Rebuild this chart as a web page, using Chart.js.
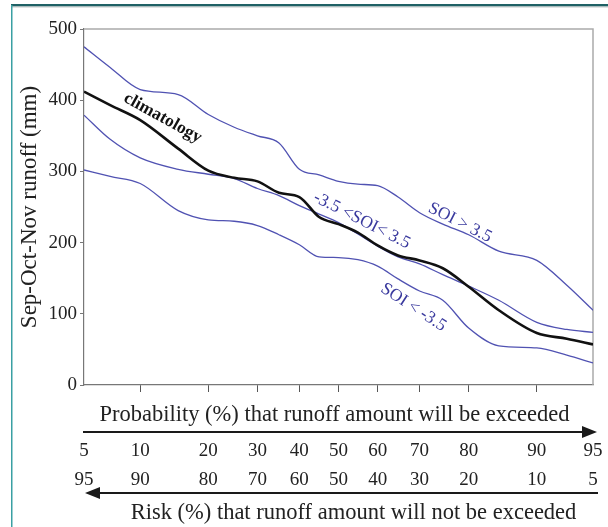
<!DOCTYPE html>
<html>
<head>
<meta charset="utf-8">
<script src="https://cdn.jsdelivr.net/npm/chart.js@4.4.1/dist/chart.umd.min.js"></script>
<style>
    html, body { margin: 0; padding: 0; background: #fff; }
    #wrap { position: relative; width: 608px; height: 527px; }
</style>
</head>
<body>
<div id="wrap"><canvas id="runoffChart"></canvas></div>
<script>
// exceedance probability (%) of each read-off point
const probabilities = [5, 7, 10, 15, 20, 25, 30, 35, 40, 45, 50, 55, 60, 65, 70, 75, 80, 85, 90, 93, 95];
// Sep-Oct-Nov runoff (mm)
const climatology = [412, 393, 372, 332, 301, 291, 286, 270, 264, 236, 226, 214, 196, 182, 175, 164, 138, 105, 73, 65, 57];
const soiPositive = [475, 446, 415, 408, 380, 362, 350, 340, 303, 295, 286, 282, 280, 264, 242, 226, 211, 188, 175, 140, 105];
const soiNeutral  = [379, 345, 319, 303, 296, 290, 276, 266, 252, 240, 228, 212, 195, 180, 170, 155, 139, 119, 88, 78, 74];
const soiNegative = [302, 293, 283, 245, 232, 230, 224, 211, 197, 180, 179, 176, 167, 149, 132, 119, 80, 55, 52, 42, 31];

const probabilityTicks = [5, 10, 20, 30, 40, 50, 60, 70, 80, 90, 95];

const curveLabels = [
    { text: "climatology", p: 12.8, v: 375, angle: 29, color: "#111", weight: "bold" },
    { text: "-3.5 <SOI< 3.5", p: 56, v: 231, angle: 27, color: "#3a3a9e", weight: "normal" },
    { text: "SOI > 3.5", p: 78.4, v: 228, angle: 27, color: "#3a3a9e", weight: "normal" },
    { text: "SOI < -3.5", p: 68.6, v: 109, angle: 33, color: "#3a3a9e", weight: "normal" }
];

const SERIF = '"Liberation Serif", "Times New Roman", serif';
const BLUE = "#5052b2";

// normal probability paper: inverse normal (Abramowitz & Stegun 26.2.23)
function probit(p) {
    const q = p < 0.5 ? p : 1 - p;
    const t = Math.sqrt(-2 * Math.log(q));
    const z = t - (2.515517 + 0.802853 * t + 0.010328 * t * t) /
        (1 + 1.432788 * t + 0.189269 * t * t + 0.001308 * t * t * t);
    return p < 0.5 ? -z : z;
}

function toPoints(values) {
    return probabilities.map((p, i) => ({ x: probit(p / 100), y: values[i] }));
}

function drawArrow(ctx, x1, x2, y, dir) {
    ctx.save();
    ctx.strokeStyle = "#1a1a1a";
    ctx.fillStyle = "#1a1a1a";
    ctx.lineWidth = 2;
    ctx.beginPath();
    if (dir == "right") {
        ctx.moveTo(x1, y);
        ctx.lineTo(x2 - 12, y);
    } else {
        ctx.moveTo(x1 + 12, y);
        ctx.lineTo(x2, y);
    }
    ctx.stroke();
    ctx.beginPath();
    if (dir == "right") {
        ctx.moveTo(x2, y);
        ctx.lineTo(x2 - 15, y - 6);
        ctx.lineTo(x2 - 15, y + 6);
    } else {
        ctx.moveTo(x1, y);
        ctx.lineTo(x1 + 15, y - 6);
        ctx.lineTo(x1 + 15, y + 6);
    }
    ctx.closePath();
    ctx.fill();
    ctx.restore();
}

const decorPlugin = {
    id: "runoffDecor",
    beforeDraw(chart) {
        const ctx = chart.ctx;
        ctx.save();
        ctx.fillStyle = "#ffffff";
        ctx.fillRect(0, 0, chart.width, chart.height);
        // teal frame of the figure
        ctx.fillStyle = "#1f6165";
        ctx.fillRect(11, 4, chart.width - 11, 2.5);
        ctx.fillStyle = "#c3caca";
        ctx.fillRect(12, 6.5, chart.width - 12, 1);
        ctx.fillStyle = "#3aa0a3";
        ctx.fillRect(11, 5, 1.5, chart.height - 5);
        ctx.restore();
    },
    beforeDatasetsDraw(chart) {
        const { ctx, chartArea: { left, right, top, bottom } } = chart;
        ctx.save();
        ctx.strokeStyle = "#aaaaaa";
        ctx.lineWidth = 1.5;
        ctx.beginPath();
        ctx.moveTo(left, top);
        ctx.lineTo(right, top);
        ctx.lineTo(right, bottom);
        ctx.stroke();
        ctx.restore();
    },
    afterDatasetsDraw(chart) {
        const { ctx, scales: { x, y } } = chart;
        curveLabels.forEach(label => {
            ctx.save();
            ctx.translate(x.getPixelForValue(probit(label.p / 100)), y.getPixelForValue(label.v));
            ctx.rotate(label.angle * Math.PI / 180);
            ctx.font = label.weight + " 17.5px " + SERIF;
            ctx.fillStyle = label.color;
            ctx.textAlign = "center";
            ctx.textBaseline = "middle";
            ctx.fillText(label.text, 0, 0);
            ctx.restore();
        });
    },
    afterDraw(chart) {
        const ctx = chart.ctx;
        const xs = chart.scales.x;
        const mid = (xs.left + xs.right) / 2;
        ctx.save();
        ctx.font = "22.5px " + SERIF;
        ctx.fillStyle = "#222";
        ctx.textAlign = "center";
        ctx.textBaseline = "alphabetic";
        ctx.fillText("Probability (%) that runoff amount will be exceeded", mid - 4, xs.top + 36);
        ctx.fillText("Risk (%) that runoff amount will not be exceeded", mid + 15, xs.top + 134);
        ctx.restore();
        drawArrow(ctx, xs.left - 1, xs.right + 4, xs.top + 47, "right");
        drawArrow(ctx, xs.left + 1, xs.right + 5, xs.top + 108, "left");
    }
};

function drawRunoffChart() {
    const ctx = document.getElementById("runoffChart").getContext("2d");
    new Chart(ctx, {
        type: "line",
        data: {
            datasets: [
                { label: "climatology", data: toPoints(climatology), borderColor: "#111", borderWidth: 2.6 },
                { label: "SOI > 3.5", data: toPoints(soiPositive), borderColor: BLUE, borderWidth: 1.3 },
                { label: "-3.5 < SOI < 3.5", data: toPoints(soiNeutral), borderColor: BLUE, borderWidth: 1.3 },
                { label: "SOI < -3.5", data: toPoints(soiNegative), borderColor: BLUE, borderWidth: 1.3 }
            ]
        },
        options: {
            responsive: true,
            maintainAspectRatio: false,
            animation: false,
            elements: {
                point: { radius: 0 },
                line: { tension: 0.35, cubicInterpolationMode: "monotone", fill: false }
            },
            layout: { padding: { top: 29, right: 15, left: 0, bottom: 0 } },
            plugins: {
                legend: { display: false },
                tooltip: { enabled: false }
            },
            scales: {
                x: {
                    type: "linear",
                    min: probit(0.05),
                    max: probit(0.95),
                    afterBuildTicks: scale => {
                        scale.ticks = probabilityTicks.map(p => ({ value: probit(p / 100) }));
                    },
                    afterFit: scale => {
                        scale.height = 142;
                        scale.paddingLeft = 0;
                        scale.paddingRight = 0;
                    },
                    border: { display: true, color: "#777", width: 1.2 },
                    grid: {
                        drawOnChartArea: false,
                        drawTicks: true,
                        tickLength: 7,
                        tickColor: c => (c.index === 0 || c.index === probabilityTicks.length - 1) ? "rgba(0,0,0,0)" : "#555"
                    },
                    ticks: {
                        autoSkip: false,
                        maxRotation: 0,
                        padding: 45,
                        color: "#222",
                        font: { family: SERIF, size: 19, lineHeight: 1.5 },
                        callback: (value, index) => [String(probabilityTicks[index]), String(100 - probabilityTicks[index])]
                    }
                },
                y: {
                    min: 0,
                    max: 500,
                    afterFit: scale => { scale.width = 84; },
                    border: { display: true, color: "#777", width: 1.2 },
                    grid: { drawOnChartArea: false, tickLength: 4, tickColor: "#777" },
                    ticks: {
                        stepSize: 100,
                        padding: 3,
                        color: "#222",
                        font: { family: SERIF, size: 19 }
                    },
                    title: {
                        display: true,
                        text: "Sep-Oct-Nov runoff (mm)",
                        color: "#222",
                        font: { family: SERIF, size: 23 },
                        padding: { top: 16, bottom: 0 }
                    }
                }
            }
        },
        plugins: [decorPlugin]
    });
}

drawRunoffChart();
</script>
</body>
</html>
